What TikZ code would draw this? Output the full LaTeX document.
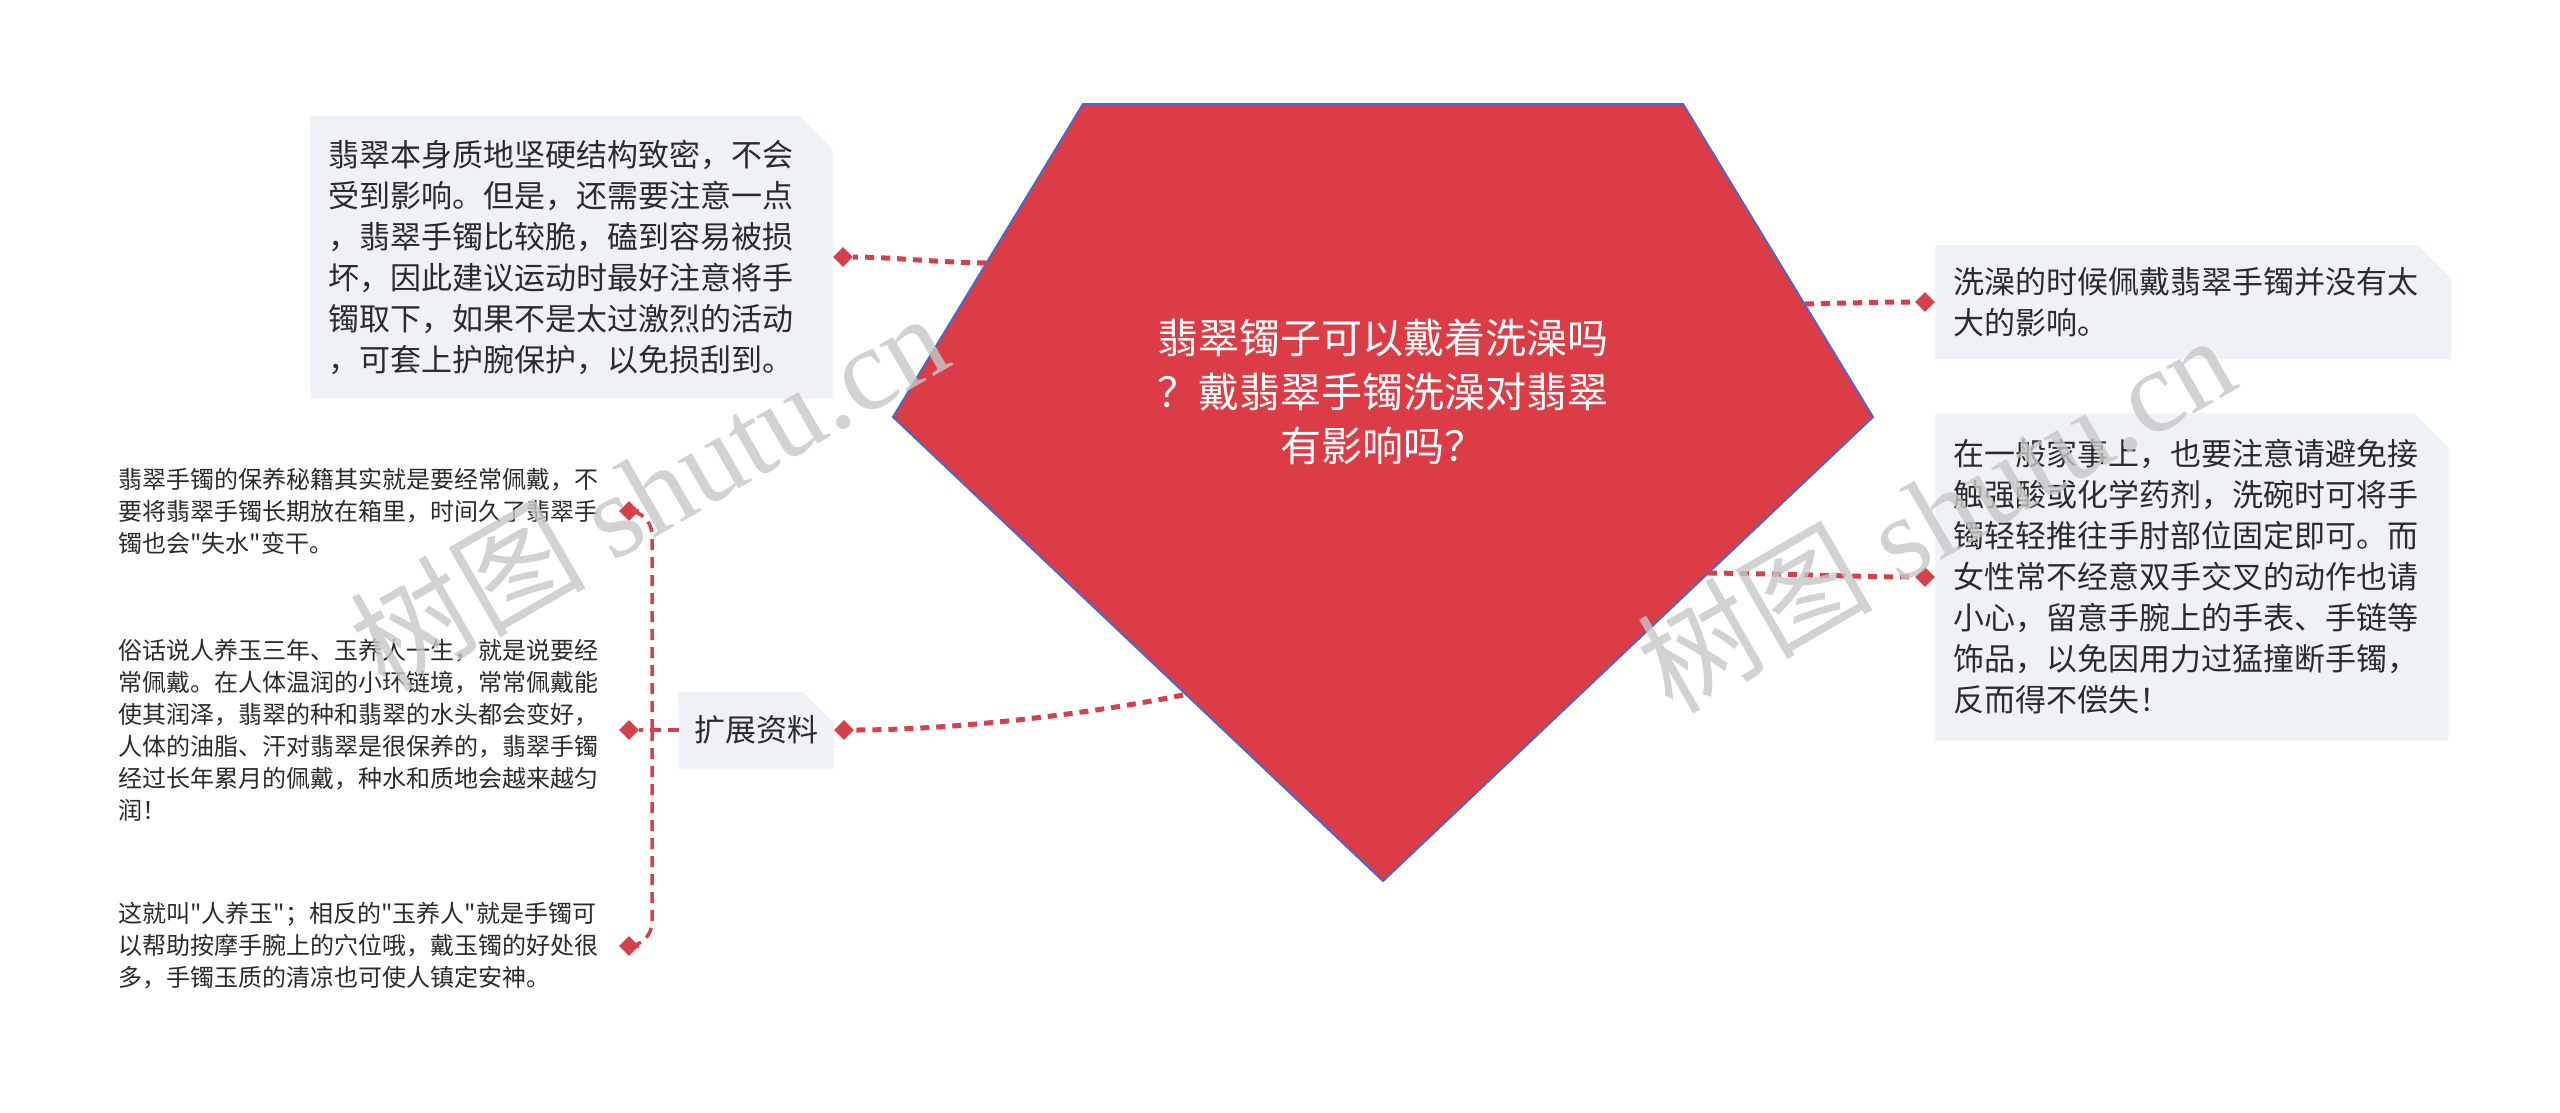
\documentclass[tikz,border=0pt]{standalone}
\usepackage{fontspec}
\setmainfont{Noto Sans CJK SC}[Ligatures=TeXOff]
\newfontfamily\wmserif{Liberation Serif}
\usetikzlibrary{positioning,shapes.geometric,shapes.misc}
\definecolor{gemred}{HTML}{DC3C45}
\definecolor{gemedge}{HTML}{4F66C9}
\definecolor{linkred}{HTML}{D6404A}
\definecolor{cardbg}{HTML}{EEF1F5}
\definecolor{inkdark}{HTML}{2B2B2B}
\tikzset{
  card/.style={chamfered rectangle, chamfered rectangle corners=north east,
    chamfered rectangle sep=17pt, fill=cardbg, inner xsep=1pt, inner ysep=0pt,
    align=left, text=inkdark, font=\fontsize{31}{41}\selectfont},
  note/.style={inner sep=0pt, text width=486pt, align=left, text=inkdark,
    font=\fontsize{24}{32}\selectfont},
  knob/.style={diamond, fill=linkred, minimum size=20pt, inner sep=0pt},
  link/.style={draw=linkred, line width=5pt, dash pattern=on 9pt off 7pt},
  thinlink/.style={link, line width=3.5pt, dash pattern=on 11pt off 7pt},
  watermark/.style={rotate=30, text=black!22, opacity=0.8,
    font=\fontsize{118}{118}\selectfont}
}
\begin{document}
\begin{tikzpicture}[x=1pt,y=-1pt]
\useasboundingbox[fill=white] (0,0) rectangle (2560,1112);

% gem
\draw[fill=gemred, draw=gemedge, line width=2pt] (1083,104) -- (1683,104) -- (1873,417) -- (1383,881) -- (893,417) -- cycle;
\node[text=white, align=center, font=\fontsize{41}{54}\selectfont] (root) at (1383,392) {翡翠镯子可以戴着洗澡吗\\？戴翡翠手镯洗澡对翡翠\\有影响吗？};

% points on the gem outline
\coordinate (g1) at (986,263);
\coordinate (g2) at (1805,304);
\coordinate (g3) at (1708,573);
\coordinate (g4) at (1183,695);

% markers
\node[knob] (k1) at (843,257) {};
\node[knob] (k2) at (1925,302) {};
\node[knob] (k3) at (1925,577) {};
\node[knob] (k4) at (844,730) {};
\node[knob] (m1) at (629,511) {};
\node[knob] (m2) at (629,730) {};
\node[knob] (m3) at (629,946) {};

% cards
\node[card, left=0pt of k1, text width=486pt, minimum height=283pt] (safe) {翡翠本身质地坚硬结构致密，不会\\受到影响。但是，还需要注意一点\\，翡翠手镯比较脆，磕到容易被损\\坏，因此建议运动时最好注意将手\\镯取下，如果不是太过激烈的活动\\，可套上护腕保护，以免损刮到。};
\node[card, right=0pt of k2, text width=480pt, minimum height=114pt] (bath) {洗澡的时候佩戴翡翠手镯并没有太\\大的影响。};
\node[card, right=0pt of k3, text width=477pt, minimum height=327pt] (chores) {在一般家事上，也要注意请避免接\\触强酸或化学药剂，洗碗时可将手\\镯轻轻推往手肘部位固定即可。而\\女性常不经意双手交叉的动作也请\\小心，留意手腕上的手表、手链等\\饰品，以免因用力过猛撞断手镯，\\反而得不偿失！};
\node[card, left=0pt of k4, text width=124pt, minimum height=77pt] (more) {扩展资料};

% notes
\node[note, left=14pt of m1] (n1) {翡翠手镯的保养秘籍其实就是要经常佩戴，不\\要将翡翠手镯长期放在箱里，时间久了翡翠手\\镯也会"失水"变干。};
\node[note, left=14pt of m2] (n2) {俗话说人养玉三年、玉养人一生，就是说要经\\常佩戴。在人体温润的小环链境，常常佩戴能\\使其润泽，翡翠的种和翡翠的水头都会变好，\\人体的油脂、汗对翡翠是很保养的，翡翠手镯\\经过长年累月的佩戴，种水和质地会越来越匀\\润！};
\node[note, left=14pt of m3] (n3) {这就叫"人养玉"；相反的"玉养人"就是手镯可\\以帮助按摩手腕上的穴位哦，戴玉镯的好处很\\多，手镯玉质的清凉也可使人镇定安神。};

% links
\draw[link] (g1) .. controls (930,262) and (890,257) .. (k1);
\draw[link] (g2) .. controls (1850,303) and (1880,302) .. (k2);
\draw[link] (g3) .. controls (1800,574) and (1860,577) .. (k3);
\draw[link] (g4) .. controls (1100,712) and (960,730) .. (k4);
\coordinate (fork) at (652,730);
\draw[thinlink] (more.west) -- (m2);
\draw[thinlink, rounded corners=24pt] (fork) |- (m1);
\draw[thinlink, rounded corners=24pt] (fork) |- (m3);

% watermarks
\node[watermark] (wm1) at (648,490) {树图 {\wmserif shutu.cn}};
\node[watermark] (wm2) at (1935,512) {树图 {\wmserif shutu.cn}};
\end{tikzpicture}
\end{document}
